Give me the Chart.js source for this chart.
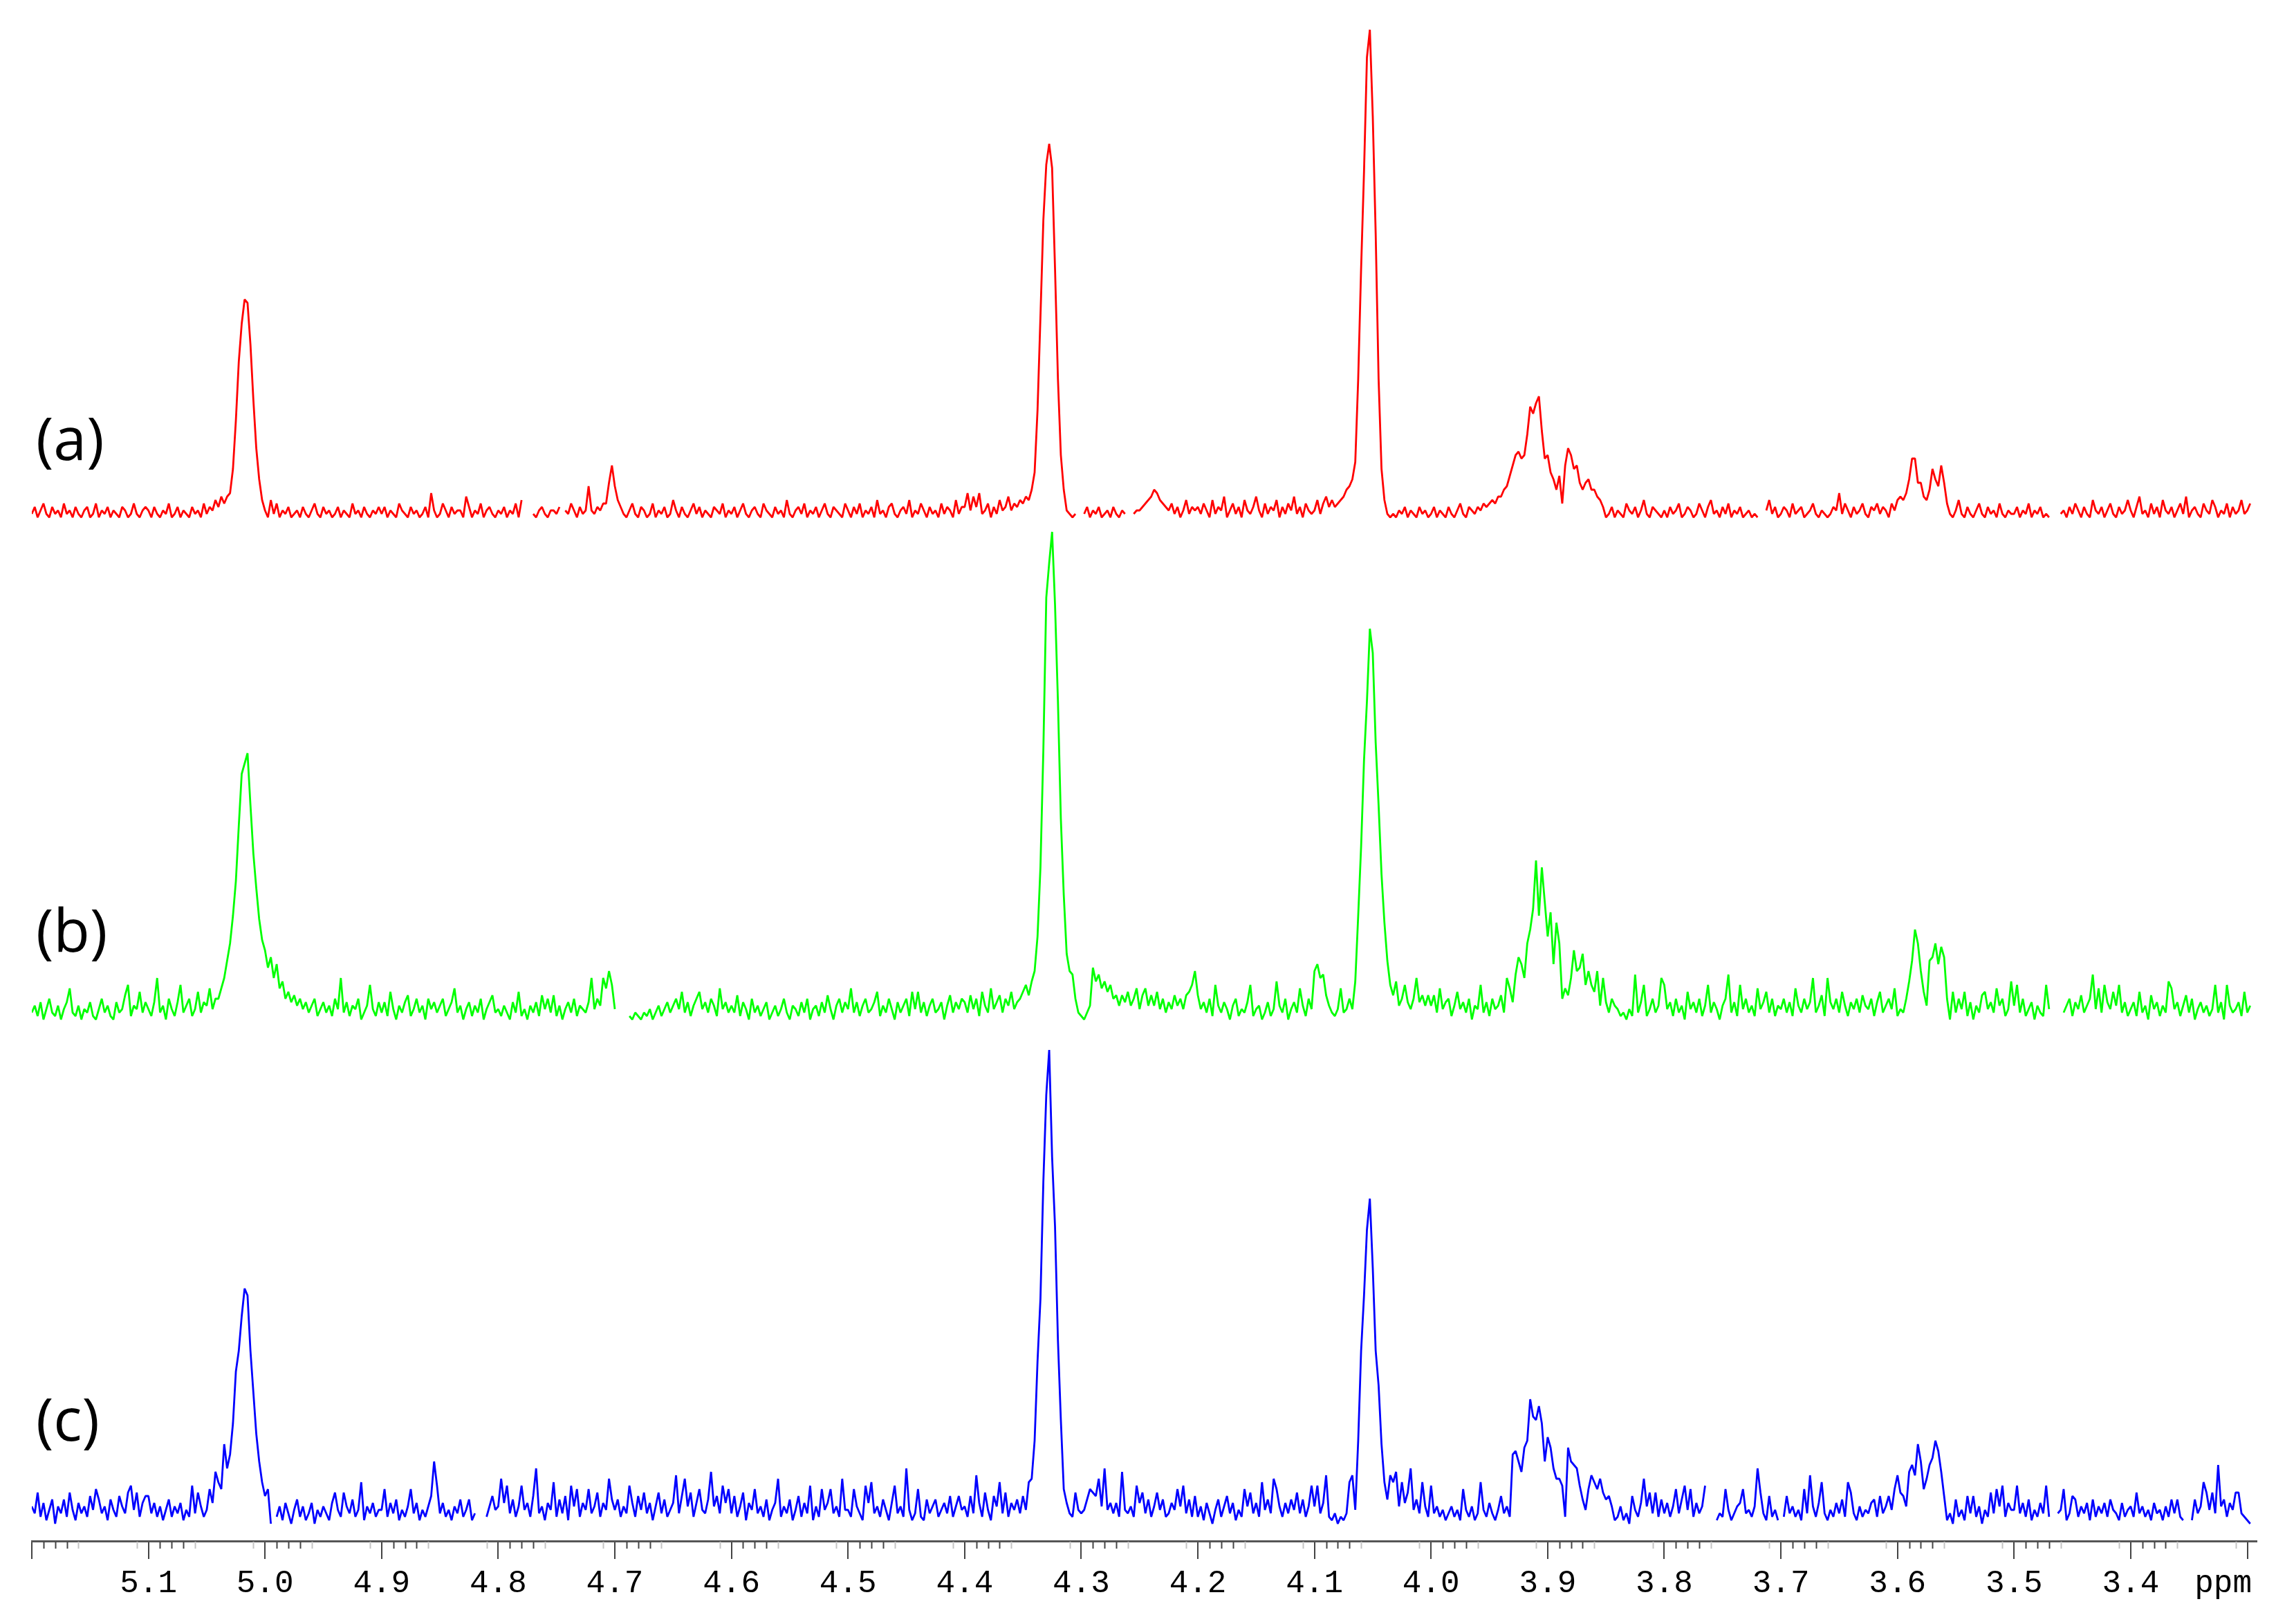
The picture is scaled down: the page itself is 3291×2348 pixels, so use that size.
<!DOCTYPE html>
<html>
<head>
<meta charset="utf-8">
<title>1H NMR spectra (a), (b), (c)</title>
<script src="https://cdn.jsdelivr.net/npm/chart.js@4.4.1/dist/chart.umd.min.js"></script>
<style>
  html, body { margin: 0; padding: 0; background: #fff; }
</style>
</head>
<body>
<canvas id="nmrChart" width="3291" height="2348"></canvas>
<script>
// each row holds 40 points, 0.0025 ppm apart, starting at rowStart[r]
const rowStart = [5.2, 5.1, 5.0, 4.9, 4.8, 4.7, 4.6, 4.5, 4.4, 4.3, 4.2, 4.1, 4.0, 3.9, 3.8, 3.7, 3.6, 3.5, 3.4, 3.3];
const ppmStep = 0.0025;

const traceLabels = ['(a)', '(b)', '(c)'];
const tickPositions = [5.2, 5.1, 5.0, 4.9, 4.8, 4.7, 4.6, 4.5, 4.4, 4.3, 4.2, 4.1, 4.0, 3.9, 3.8, 3.7, 3.6, 3.5, 3.4, 3.3];
const tickLabels = ['', '5.1', '5.0', '4.9', '4.8', '4.7', '4.6', '4.5', '4.4', '4.3', '4.2', '4.1', '4.0', '3.9', '3.8', '3.7', '3.6', '3.5', '3.4', ''];

// intensities (arbitrary units), null where the trace is clipped away
const spectrumA = [
  [1,3,0,2,4,1,0,3,1,2, 0,4,1,2,0,3,1,0,2,3, 0,1,4,0,2,1,3,0,2,1, 0,3,2,0,1,4,1,0,2,3],
  [2,0,3,1,0,2,1,4,0,1, 3,0,2,1,0,3,1,2,0,4, 1,3,2,5,3,6,4,6,7,14, 28,45,56,63,62,50,34,20,11,5],
  [2,0,5,1,4,0,2,1,3,0, 1,2,0,3,1,0,2,4,1,0, 3,1,2,0,1,3,0,2,1,0, 4,1,2,0,3,1,0,2,1,3],
  [1,3,0,2,1,0,4,2,1,0, 3,1,2,0,1,3,0,7,2,0, 1,4,2,0,3,1,2,2,0,6, 3,0,2,1,4,0,2,3,1,0],
  [2,1,3,0,2,1,4,0,5,null, null,null,1,0,2,3,1,0,2,2, 1,3,null,2,1,4,2,0,3,1, 2,9,2,1,3,2,4,4,10,15],
  [9,5,3,1,0,2,4,1,0,3, 2,0,1,4,0,2,1,3,0,1, 5,2,0,3,1,0,2,4,1,3, 0,2,1,0,3,2,1,4,0,2],
  [1,3,0,2,4,1,0,2,3,1, 0,4,2,1,0,3,1,2,0,5, 1,0,2,3,1,4,0,2,1,3, 0,2,4,1,0,3,2,1,0,4],
  [2,0,3,1,4,0,2,1,3,0, 5,1,2,0,3,4,1,0,2,3, 1,5,0,2,1,4,2,0,3,1, 2,0,4,1,3,2,0,5,1,3],
  [3,7,2,6,3,7,1,2,4,0, 3,1,5,2,3,6,2,4,3,5, 4,6,5,8,13,31,58,86,102,108, 101,72,40,18,8,2,1,0,1,null],
  [null,1,3,0,2,1,3,0,1,2, 0,3,1,0,2,1,null,null,1,2, 2,3,4,5,6,8,7,5,4,3, 2,4,1,3,0,2,5,1,3,2],
  [3,1,4,2,0,5,1,3,2,6, 0,2,4,1,3,0,5,2,1,3, 6,2,0,4,1,3,2,5,0,3, 1,4,2,6,1,3,0,4,2,1],
  [2,5,1,4,6,3,5,3,4,5, 6,8,9,11,16,40,72,100,133,141, 116,82,40,14,5,1,0,1,0,2, 1,3,0,2,1,0,3,1,2,0],
  [1,3,0,2,1,0,3,1,0,2, 4,1,0,3,2,1,3,2,4,3, 4,5,4,6,6,8,9,12,15,18, 19,17,18,24,32,30,33,35,25,17],
  [18,13,11,8,12,4,15,20,18,14, 15,10,8,10,11,8,8,6,5,3, 0,1,3,0,2,1,0,4,2,1, 3,0,2,5,1,0,3,2,1,0],
  [2,0,3,1,2,4,0,1,3,2, 0,1,4,2,0,3,5,1,2,0, 3,1,4,0,2,1,3,0,1,2, 0,1,0,null,null,2,5,1,3,0],
  [1,3,2,0,4,1,2,3,0,1, 2,4,1,0,2,1,0,1,3,2, 7,1,4,2,0,3,1,2,4,1, 0,3,2,4,1,3,2,0,4,2],
  [5,6,5,7,11,17,17,10,10,6, 5,8,14,11,9,15,10,4,1,0, 2,5,1,0,3,1,0,2,4,1, 0,3,1,2,0,4,1,0,2,1],
  [1,3,0,2,1,4,0,2,1,3, 0,1,0,null,null,null,1,2,0,3, 1,4,2,0,3,1,0,5,2,1, 3,0,2,4,1,0,3,1,2,5],
  [2,0,3,6,1,2,0,4,1,3, 0,5,2,1,3,0,2,4,1,6, 0,2,3,1,0,4,2,1,5,3, 0,2,1,4,0,3,1,2,5,1],
  [2,4]
];

const spectrumB = [
  [2,4,1,5,0,3,6,2,1,4, 0,3,5,9,2,1,4,0,3,2, 5,1,0,3,6,2,4,1,0,5, 2,3,7,10,1,4,3,8,2,5],
  [3,1,5,12,2,4,0,6,3,1, 5,10,2,4,6,1,3,8,2,5, 4,9,3,6,6,9,12,17,22,30, 40,56,71,74,77,62,48,38,29,23],
  [20,15,18,12,16,9,11,6,8,5, 7,4,6,3,5,2,4,6,1,3, 5,2,4,1,6,3,12,2,5,1, 4,3,6,0,2,4,10,3,1,5],
  [2,5,1,8,3,0,4,2,5,7, 1,3,6,2,4,0,6,3,5,2, 4,6,1,3,5,9,2,4,0,3, 5,1,4,2,6,0,3,5,7,2],
  [3,1,4,2,0,5,2,8,1,3, 0,4,2,5,1,7,3,6,2,7, 1,4,0,3,5,2,6,1,4,3, 2,5,12,3,6,4,12,9,14,10],
  [3,null,null,null,null,1,0,2,1,0, 2,1,3,0,2,4,1,3,5,2, 4,6,3,8,2,5,1,4,6,8, 3,5,2,6,4,1,9,3,5,2],
  [4,2,7,1,5,3,0,6,2,4, 1,3,5,0,2,4,1,3,6,2, 0,4,3,1,5,2,6,0,3,4, 1,5,2,7,3,0,4,6,2,5],
  [3,9,2,5,1,4,6,2,3,5, 8,1,4,2,6,3,0,5,2,4, 6,1,8,3,8,2,5,1,4,6, 2,3,5,0,4,7,2,5,3,6],
  [5,2,7,3,6,1,8,4,2,9, 3,5,7,2,6,4,8,3,5,6, 8,10,7,11,14,24,44,78,122,132, 141,120,92,58,36,19,14,13,6,2],
  [1,0,2,4,15,11,13,9,11,8, 10,6,7,4,7,5,8,4,6,9, 3,7,9,4,7,4,8,3,6,2, 5,3,7,4,6,3,7,8,10,14],
  [7,3,5,2,6,1,10,4,2,5, 3,0,4,6,1,3,2,5,10,1, 3,4,0,2,5,1,3,11,4,2, 6,0,3,5,2,9,4,1,6,3],
  [14,16,12,13,7,4,2,1,3,9, 2,3,6,3,11,30,50,75,92,113, 106,80,62,42,28,17,10,7,11,4, 6,10,5,3,6,12,5,7,4,7],
  [4,7,2,9,3,5,6,1,4,8, 3,5,2,6,0,4,3,10,2,5, 1,6,3,4,7,2,12,9,5,13, 18,16,12,22,26,32,46,30,44,34],
  [24,31,16,28,22,6,9,7,12,20, 14,15,19,10,14,10,8,14,4,12, 5,2,6,4,3,1,2,0,3,1, 13,2,5,10,1,3,6,2,4,12],
  [10,3,5,1,6,2,4,0,8,3, 5,2,6,1,4,10,2,5,3,0, 4,6,13,2,5,1,10,3,6,2, 4,1,9,3,5,8,2,6,1,4],
  [3,6,2,5,1,9,4,2,6,3, 5,12,2,4,7,1,12,5,3,6, 2,8,4,1,5,3,6,2,7,4, 3,6,1,5,8,2,4,6,3,9],
  [1,3,2,6,11,17,26,22,14,8, 4,17,18,22,16,21,18,6,0,8, 2,6,3,8,1,5,0,4,2,7, 8,3,5,2,9,4,6,1,3,11],
  [4,10,2,6,1,3,5,0,4,2, 1,10,3,null,null,null,null,2,4,6, 1,5,3,7,2,4,6,13,3,9, 2,10,5,3,8,4,10,2,5,1],
  [3,5,1,8,2,4,0,7,3,5, 1,4,2,11,9,3,5,1,4,7, 2,6,0,3,5,2,4,1,3,10, 2,5,0,10,4,2,3,5,1,8],
  [2,4]
];

const spectrumC = [
  [5,3,9,2,6,1,4,7,0,5, 3,7,2,9,4,1,6,3,5,2, 8,4,10,7,3,5,1,7,4,2, 8,5,3,9,11,4,9,2,6,8],
  [8,3,6,2,5,1,4,7,2,5, 3,6,1,4,2,11,3,9,5,2, 4,10,6,15,12,10,23,16,20,29, 44,50,60,68,66,50,38,26,18,12],
  [8,10,0,null,2,5,1,6,3,0, 4,7,2,5,1,3,6,0,4,2, 5,3,1,6,9,4,2,9,5,3, 7,2,4,12,1,5,3,6,2,4],
  [4,10,2,6,3,7,1,4,2,5, 10,3,6,1,4,2,5,8,18,11, 3,6,2,4,1,5,3,7,2,4, 7,1,3,null,null,null,2,5,8,4],
  [5,13,6,11,3,7,2,5,11,4, 6,2,8,16,3,5,1,6,4,12, 2,7,3,8,1,11,5,10,2,6, 4,10,3,5,9,2,6,4,13,7],
  [4,7,2,5,3,11,6,2,8,4, 9,3,6,1,5,9,3,7,2,4, 6,14,3,8,13,5,9,2,6,10, 4,3,7,15,5,8,3,11,6,10],
  [3,8,2,5,9,1,6,4,10,3, 5,2,7,1,4,6,13,2,5,3, 7,1,4,8,2,6,3,11,1,5, 2,10,4,6,10,3,5,2,13,4],
  [4,2,10,5,3,1,11,6,12,3, 5,2,7,4,1,6,11,3,5,2, 16,4,1,3,10,2,1,7,3,5, 7,2,4,6,3,8,2,5,8,4],
  [5,2,8,3,14,6,2,9,4,1, 8,5,12,3,9,2,6,4,7,3, 8,4,12,13,24,47,65,99,124,137, 106,86,53,30,10,6,3,2,9,4],
  [3,4,7,10,9,8,13,5,16,4, 6,3,6,2,15,4,3,5,2,11, 6,9,3,7,2,5,9,4,7,2, 3,6,4,10,5,11,3,7,2,8],
  [2,5,1,6,3,0,4,7,2,5, 8,3,6,1,4,2,10,5,9,3, 6,2,12,4,7,3,13,10,5,2, 6,3,7,4,9,3,7,2,5,11],
  [5,11,3,6,14,2,1,3,0,2, 1,3,12,14,4,24,50,66,85,94, 74,50,40,23,12,7,14,12,15,5, 12,6,9,16,4,7,3,12,5,2],
  [11,3,5,2,4,1,3,5,2,4, 1,10,4,2,5,1,3,12,4,2, 6,3,1,4,8,3,5,2,20,21, 18,15,22,24,36,31,30,34,29,18],
  [25,22,16,13,13,11,2,22,18,17, 16,11,7,4,10,14,12,10,13,9, 7,8,5,1,2,5,1,3,0,8, 4,2,6,13,5,9,3,9,2,7],
  [3,6,2,5,10,3,7,11,4,10, 2,6,3,5,11,null,null,null,1,3, 2,10,4,1,3,5,6,10,3,4, 2,5,16,9,3,1,8,2,4,1],
  [null,2,8,3,5,2,4,1,10,3, 14,5,2,6,12,3,1,4,2,6, 3,7,2,12,9,3,1,5,2,4, 3,6,7,2,8,3,5,8,4,10],
  [14,9,8,5,15,17,14,23,18,10, 13,17,19,24,21,15,8,1,3,0, 7,2,4,1,8,3,8,2,5,0, 4,2,9,3,10,5,11,2,6,4],
  [4,11,3,6,2,7,1,4,2,6, 3,11,2,null,null,3,4,10,1,3, 8,7,2,5,3,6,1,7,2,5, 3,6,2,7,4,3,1,6,2,4],
  [5,2,9,3,5,2,4,1,6,3, 4,1,5,2,7,3,7,2,1,null, null,1,7,3,5,12,9,4,9,3, 17,5,7,2,6,4,9,9,3,2],
  [1,0]
];

// vertical stacking of the three traces, in the same units as the intensities
const stackLift = [296, 150.8, 5];

function toPoints(rows, lift) {
  const pts = [];
  rows.forEach((row, r) => {
    row.forEach((v, k) => {
      pts.push({
        x: +(rowStart[r] - k * ppmStep).toFixed(4),
        y: v === null ? null : v + lift
      });
    });
  });
  return pts;
}

// minor ticks, (a)/(b)/(c) tags and the "ppm" unit
const decorations = {
  id: 'decorations',
  afterDraw(chart, args, opts) {
    const { ctx, chartArea } = chart;
    const x = chart.scales.x;
    const y = chart.scales.y;
    ctx.save();

    for (let m = 330; m <= 520; m++) {
      const d = m % 10;
      if (d >= 2 && d <= 5) continue;
      if (d === 0) continue;
      const px = Math.round(x.getPixelForValue(m / 100)) + 0.5;
      ctx.strokeStyle = (d === 1 || d === 6) ? '#c4c4c4' : '#444';
      ctx.lineWidth = 2;
      ctx.beginPath();
      ctx.moveTo(px, chartArea.bottom + 1);
      ctx.lineTo(px, chartArea.bottom + 11);
      ctx.stroke();
    }

    ctx.fillStyle = '#000';
    ctx.font = opts.tagFont;
    ctx.textAlign = 'left';
    ctx.textBaseline = 'middle';
    traceLabels.forEach((t, i) => {
      ctx.fillText(t, opts.tagX, y.getPixelForValue(stackLift[i] + opts.tagRise[i]));
    });

    ctx.font = opts.unitFont;
    ctx.textAlign = 'right';
    ctx.fillText('ppm', chartArea.right - 7, chartArea.bottom + opts.unitDrop);
    ctx.restore();
  }
};

const colors = ['#ff0000', '#00ff00', '#0000ff'];
const spectra = [spectrumA, spectrumB, spectrumC];

new Chart(document.getElementById('nmrChart'), {
  type: 'line',
  data: {
    datasets: spectra.map((rows, i) => ({
      label: traceLabels[i],
      data: toPoints(rows, stackLift[i]),
      borderColor: colors[i],
      borderWidth: 2.8,
      borderJoinStyle: 'bevel',
      pointRadius: 0,
      tension: 0,
      spanGaps: false,
      fill: false
    }))
  },
  options: {
    responsive: false,
    devicePixelRatio: 1,
    animation: false,
    layout: { padding: { left: 46, right: 28, top: 0, bottom: 26 } },
    plugins: {
      legend: { display: false },
      tooltip: { enabled: false },
      decorations: {
        tagFont: '86px "Open Sans"',
        tagX: 52,
        tagRise: [21.6, 24.6, 29],
        unitFont: '46px "Liberation Mono"',
        unitDrop: 62
      }
    },
    scales: {
      x: {
        type: 'linear',
        reverse: true,
        min: 3.292,
        max: 5.2,
        afterBuildTicks: (scale) => {
          scale.ticks = tickPositions.map(v => ({ value: v }));
        },
        afterFit: (scale) => { scale.height = 94; },
        grid: {
          drawOnChartArea: false,
          drawTicks: true,
          tickLength: 26,
          color: '#444',
          lineWidth: 2
        },
        border: { display: true, color: '#555', width: 3 },
        ticks: {
          autoSkip: false,
          maxRotation: 0,
          padding: 8,
          color: '#000',
          font: { family: '"Liberation Mono"', size: 46 },
          callback: (value, index) => tickLabels[index]
        }
      },
      y: {
        type: 'linear',
        display: false,
        min: 0,
        max: 445.6
      }
    }
  },
  plugins: [decorations]
});
</script>
</body>
</html>
